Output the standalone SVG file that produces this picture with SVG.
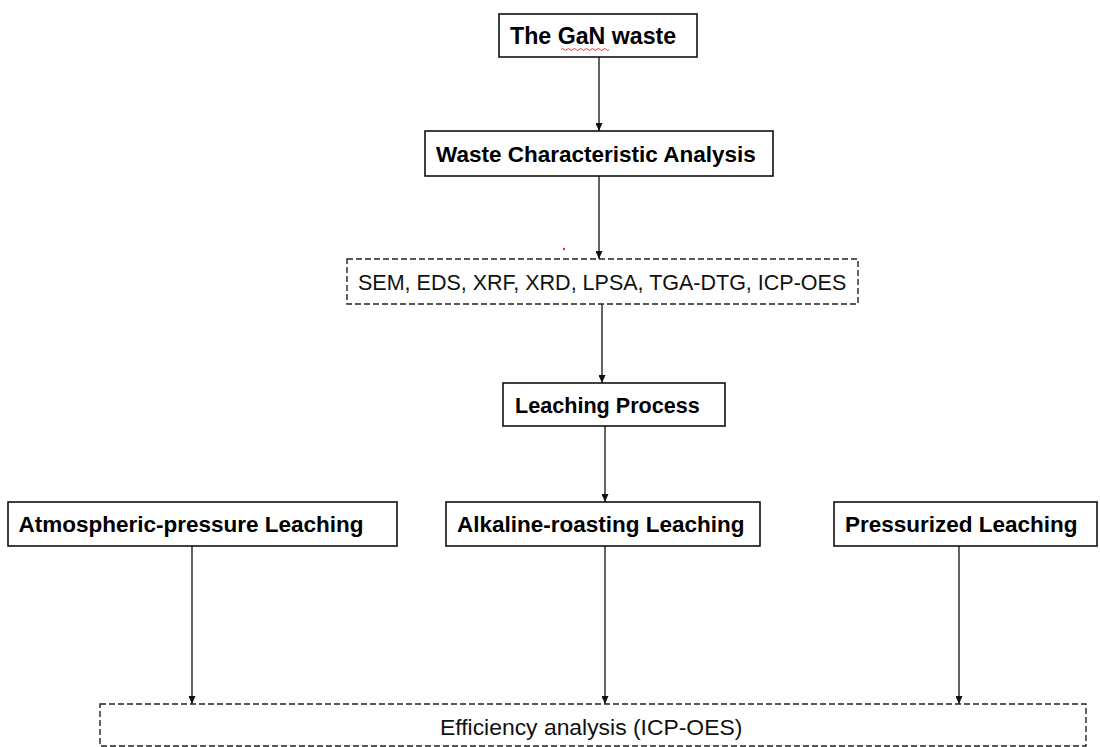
<svg xmlns="http://www.w3.org/2000/svg" width="1100" height="747" viewBox="0 0 1100 747">
  <defs>
    <marker id="arrow" viewBox="0 0 8 7" refX="8" refY="3.5" markerWidth="8" markerHeight="7" markerUnits="userSpaceOnUse" orient="auto">
      <path d="M0,0 L8,3.5 L0,7 z" fill="#111"/>
    </marker>
    <style>
      .box { fill: #ffffff; stroke: #111; stroke-width: 1.6; }
      .dbox { fill: #ffffff; stroke: #222; stroke-width: 1.4; stroke-dasharray: 6 3; }
      .bt { font-family: "Liberation Sans", Arial, sans-serif; font-weight: bold; font-size: 22.5px; fill: #000; }
      .nt { font-family: "Liberation Sans", Arial, sans-serif; font-size: 21.5px; fill: #111; }
      .conn { stroke: #222; stroke-width: 1.4; fill: none; marker-end: url(#arrow); }
    </style>
  </defs>
  <rect width="1100" height="747" fill="#ffffff"/>

  <g id="connectors">
    <line class="conn" x1="599" y1="57" x2="599" y2="131"/>
    <line class="conn" x1="599" y1="176" x2="599" y2="259"/>
    <line class="conn" x1="602" y1="304" x2="602" y2="383"/>
    <line class="conn" x1="605" y1="426" x2="605" y2="502"/>
    <line class="conn" x1="192" y1="546" x2="192" y2="704"/>
    <line class="conn" x1="605" y1="546" x2="605" y2="704"/>
    <line class="conn" x1="959" y1="546" x2="959" y2="704"/>
  </g>

  <g id="gan-waste">
    <rect class="box" x="499" y="14" width="198" height="43"/>
    <text class="bt" x="510" y="44" style="font-size:23.2px">The GaN waste</text>
    <path d="M561,49.5 q1.5,-2 3,0 t3,0 t3,0 t3,0 t3,0 t3,0 t3,0 t3,0 t3,0 t3,0 t3,0 t3,0 t3,0 t3,0 t3,0 t3,0" fill="none" stroke="#e83030" stroke-width="1"/>
  </g>

  <g id="waste-analysis">
    <rect class="box" x="425" y="131" width="348" height="45"/>
    <text class="bt" x="436" y="162">Waste Characteristic Analysis</text>
  </g>

  <circle cx="564" cy="249" r="1.2" fill="#e83030"/>

  <g id="methods">
    <rect class="dbox" x="347" y="259" width="511" height="45"/>
    <text class="nt" x="358" y="290">SEM, EDS, XRF, XRD, LPSA, TGA-DTG, ICP-OES</text>
  </g>

  <g id="leaching-process">
    <rect class="box" x="503" y="383" width="222" height="43"/>
    <text class="bt" x="515" y="413" style="font-size:21.6px">Leaching Process</text>
  </g>

  <g id="atmospheric">
    <rect class="box" x="8" y="502" width="389" height="44"/>
    <text class="bt" x="18.5" y="532">Atmospheric-pressure Leaching</text>
  </g>

  <g id="alkaline">
    <rect class="box" x="446" y="502" width="314" height="44"/>
    <text class="bt" x="457" y="532">Alkaline-roasting Leaching</text>
  </g>

  <g id="pressurized">
    <rect class="box" x="834" y="502" width="263" height="44"/>
    <text class="bt" x="845" y="532">Pressurized Leaching</text>
  </g>

  <g id="efficiency">
    <rect class="dbox" x="100" y="704" width="986" height="42"/>
    <text class="nt" x="440" y="735" style="font-size:22.9px">Efficiency analysis (ICP-OES)</text>
  </g>
</svg>
